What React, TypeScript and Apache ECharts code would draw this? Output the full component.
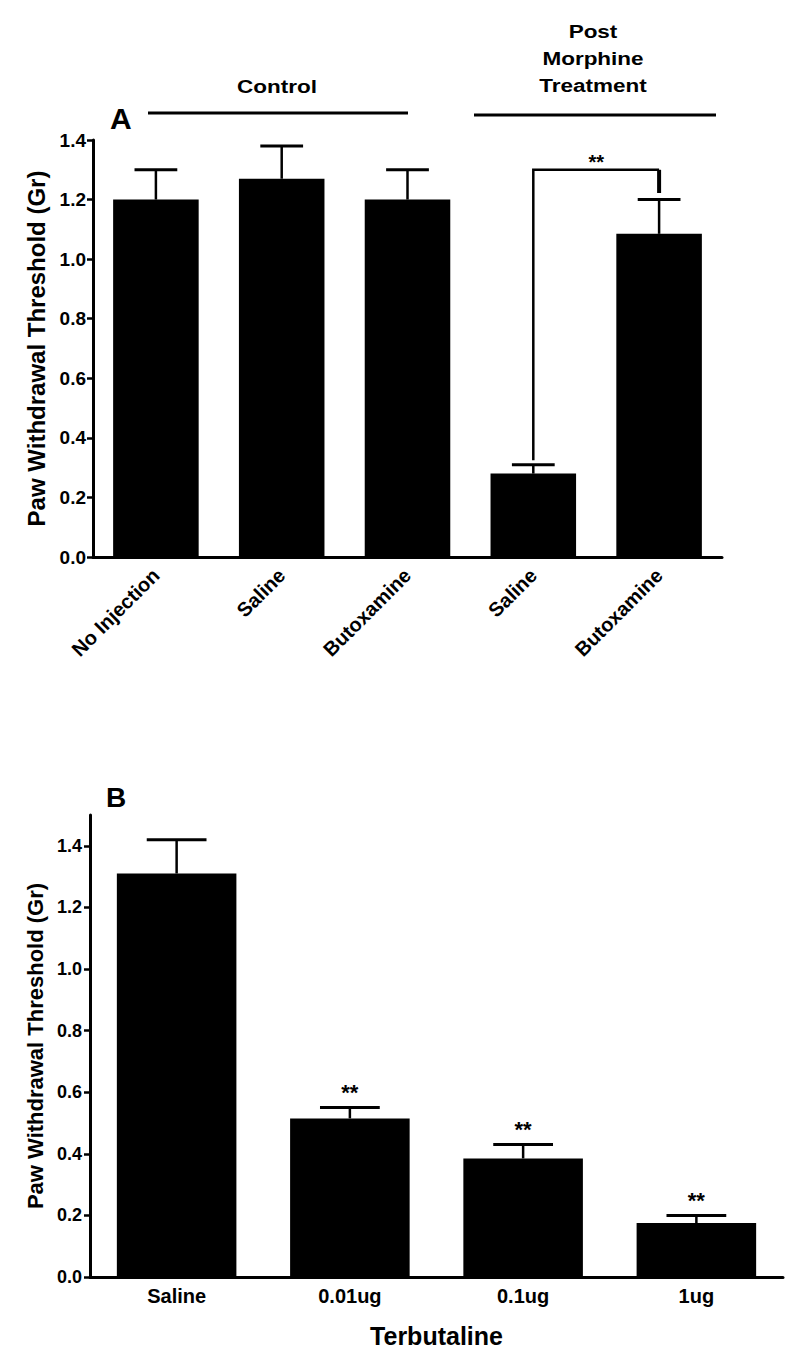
import React, { useEffect, useRef } from 'react';
import * as echarts from 'echarts';

// ---------- Panel A data ----------
const catsA = ['No Injection', 'Saline', 'Butoxamine', 'Saline', 'Butoxamine'];
const meanA = [1.2, 1.27, 1.2, 0.28, 1.085];
const errTopA = [1.3, 1.38, 1.3, 0.31, 1.2];
const ticksA = [0, 0.2, 0.4, 0.6, 0.8, 1.0, 1.2, 1.4];
// bracket: from category, to category, top value, left leg end, right leg end
const bracketA = [3, 4, 1.3, 0.325, 1.222];
const bracketLabelA = '**';

// ---------- Panel B data ----------
const catsB = ['Saline', '0.01ug', '0.1ug', '1ug'];
const meanB = [1.31, 0.515, 0.385, 0.175];
const errTopB = [1.42, 0.55, 0.43, 0.2];
const starsB = ['', '**', '**', '**'];
const ticksB = [0, 0.2, 0.4, 0.6, 0.8, 1.0, 1.2, 1.4];

const FONT = 'Arial, "Liberation Sans", Helvetica, sans-serif';

function errorSeries(grid: number, means: number[], tops: number[], stars: string[] | null, barFrac: number, starSize: number) {
  return {
    type: 'custom',
    xAxisIndex: grid,
    yAxisIndex: grid,
    encode: { x: 0, y: [1, 2] },
    data: means.map((m, i) => [i, m, tops[i], stars ? stars[i] : '']),
    z: 3,
    renderItem: (params: any, api: any) => {
      const x = api.value(0);
      const p0 = api.coord([x, api.value(1)]);
      const p1 = api.coord([x, api.value(2)]);
      const half = api.size([1, 0])[0] * barFrac * 0.25;
      const star = stars ? stars[params.dataIndex] : '';
      const children: any[] = [
        { type: 'line', shape: { x1: p0[0], y1: p0[1], x2: p1[0], y2: p1[1] }, style: { stroke: '#000', lineWidth: 2.5 } },
        { type: 'line', shape: { x1: p1[0] - half, y1: p1[1], x2: p1[0] + half, y2: p1[1] }, style: { stroke: '#000', lineWidth: 3 } },
      ];
      if (star) {
        children.push({
          type: 'text',
          x: p1[0],
          y: p1[1] - 15,
          style: { text: star, fontSize: starSize, fontWeight: 'bold', fontFamily: FONT, fill: '#000', align: 'center', verticalAlign: 'middle' },
        });
      }
      return { type: 'group', children };
    },
  };
}

export default function App() {
  const ref = useRef<HTMLDivElement>(null);
  useEffect(() => {
    if (!ref.current) return;
    const chart = echarts.init(ref.current, null, { renderer: 'svg' });
    const axisLine = { show: true, lineStyle: { color: '#000', width: 3 } };
    const option: any = {
      animation: false,
      backgroundColor: '#fff',
      grid: [
        { left: 93, top: 140, width: 629, height: 417 },
        { left: 90, top: 815, width: 693, height: 462 },
      ],
      xAxis: [
        {
          type: 'category',
          gridIndex: 0,
          data: catsA,
          axisLine,
          axisTick: { show: false },
          axisLabel: { interval: 0, rotate: 45, margin: 15, color: '#000', fontSize: 20, fontWeight: 'bold', fontFamily: FONT },
          splitLine: { show: false },
        },
        {
          type: 'category',
          gridIndex: 1,
          data: catsB,
          axisLine,
          axisTick: { show: false },
          axisLabel: { interval: 0, margin: 9, color: '#000', fontSize: 20, fontWeight: 'bold', fontFamily: FONT },
          name: 'Terbutaline',
          nameLocation: 'middle',
          nameGap: 46,
          nameTextStyle: { color: '#000', fontSize: 25, fontWeight: 'bold', fontFamily: FONT, verticalAlign: 'top' },
          splitLine: { show: false },
        },
      ],
      yAxis: [
        {
          type: 'value',
          gridIndex: 0,
          min: 0,
          max: 1.4,
          interval: 0.2,
          axisLine,
          axisTick: { show: true, length: 6, lineStyle: { color: '#000', width: 2.5 }, customValues: ticksA },
          axisLabel: { margin: 7, color: '#000', fontSize: 19, fontWeight: 'bold', fontFamily: FONT, customValues: ticksA, formatter: (v: number) => v.toFixed(1) },
          splitLine: { show: false },
          name: 'Paw Withdrawal Threshold (Gr)',
          nameLocation: 'middle',
          nameGap: 44,
          nameTextStyle: { color: '#000', fontSize: 24, fontWeight: 'bold', fontFamily: FONT },
        },
        {
          type: 'value',
          gridIndex: 1,
          min: 0,
          max: 1.5,
          interval: 0.1,
          axisLine,
          axisTick: { show: true, length: 6, lineStyle: { color: '#000', width: 2.5 }, customValues: ticksB },
          axisLabel: { margin: 8, color: '#000', fontSize: 18, fontWeight: 'bold', fontFamily: FONT, customValues: ticksB, formatter: (v: number) => v.toFixed(1) },
          splitLine: { show: false },
          name: 'Paw Withdrawal Threshold (Gr)',
          nameLocation: 'middle',
          nameGap: 43,
          nameTextStyle: { color: '#000', fontSize: 22, fontWeight: 'bold', fontFamily: FONT },
        },
      ],
      series: [
        {
          type: 'bar',
          xAxisIndex: 0,
          yAxisIndex: 0,
          data: meanA,
          barCategoryGap: '32%',
          itemStyle: { color: '#000' },
        },
        errorSeries(0, meanA, errTopA, null, 0.68, 20),
        {
          type: 'custom',
          xAxisIndex: 0,
          yAxisIndex: 0,
          encode: { x: [0, 1], y: [2, 3, 4] },
          data: [bracketA],
          z: 4,
          renderItem: (params: any, api: any) => {
            const xl = api.value(0), xr = api.value(1);
            const pTL = api.coord([xl, api.value(2)]);
            const pBL = api.coord([xl, api.value(3)]);
            const pTR = api.coord([xr, api.value(2)]);
            const pBR = api.coord([xr, api.value(4)]);
            return {
              type: 'group',
              children: [
                { type: 'polyline', shape: { points: [pBL, pTL, pTR] }, style: { stroke: '#000', lineWidth: 2.5, fill: null } },
                { type: 'line', shape: { x1: pTR[0], y1: pTR[1], x2: pBR[0], y2: pBR[1] }, style: { stroke: '#000', lineWidth: 4 } },
                {
                  type: 'text',
                  x: (pTL[0] + pTR[0]) / 2,
                  y: pTL[1] - 8,
                  style: { text: bracketLabelA, fontSize: 20, fontWeight: 'bold', fontFamily: FONT, fill: '#000', align: 'center', verticalAlign: 'middle' },
                },
              ],
            };
          },
        },
        {
          type: 'bar',
          xAxisIndex: 1,
          yAxisIndex: 1,
          data: meanB,
          barCategoryGap: '31%',
          itemStyle: { color: '#000' },
        },
        errorSeries(1, meanB, errTopB, starsB, 0.69, 22),
      ],
      graphic: [
        { type: 'text', x: 110, y: 118, style: { text: 'A', fontSize: 30, fontWeight: 'bold', fontFamily: FONT, fill: '#000', align: 'left', verticalAlign: 'middle' } },
        { type: 'text', x: 106, y: 797, style: { text: 'B', fontSize: 28, fontWeight: 'bold', fontFamily: FONT, fill: '#000', align: 'left', verticalAlign: 'middle' } },
        { type: 'text', x: 277, y: 87, scaleX: 1.25, style: { text: 'Control', fontSize: 18, fontWeight: 'bold', fontFamily: FONT, fill: '#000', align: 'center', verticalAlign: 'middle' } },
        { type: 'line', shape: { x1: 148, y1: 113, x2: 408, y2: 113 }, style: { stroke: '#000', lineWidth: 3 } },
        { type: 'text', x: 593, y: 59, scaleX: 1.25, style: { text: 'Post\nMorphine\nTreatment', fontSize: 18, lineHeight: 27, fontWeight: 'bold', fontFamily: FONT, fill: '#000', align: 'center', verticalAlign: 'middle' } },
        { type: 'line', shape: { x1: 474, y1: 115, x2: 716, y2: 115 }, style: { stroke: '#000', lineWidth: 3 } },
      ],
    };
    chart.setOption(option);
    return () => chart.dispose();
  }, []);
  return <div ref={ref} style={{ position: 'fixed', left: 0, top: 0, width: 800, height: 1363, background: '#fff' }} />;
}
